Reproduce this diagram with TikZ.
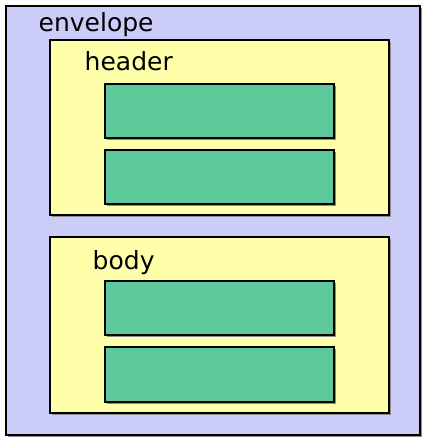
\documentclass[tikz,border=0pt]{standalone}
\usepackage{fontspec}
\setmainfont{DejaVu Sans}
\begin{document}
\begin{tikzpicture}[x=1pt,y=-1pt,
  box/.style={draw=black,line width=2pt},
  shade/.style={fill=black!45,draw=none},
  boxtitle/.style={anchor=base west,inner sep=0pt,font=\fontsize{25}{29}\selectfont}]
\definecolor{envfill}{RGB}{204,204,248}
\definecolor{partfill}{RGB}{255,255,170}
\definecolor{itemfill}{RGB}{93,200,154}
\useasboundingbox (0,0) rectangle (428,442);
\fill[white] (0,0) rectangle (428,442);

% envelope
\fill[shade] (8,8) rectangle (422,437);
\draw[box,fill=envfill] (6,6) rectangle (420,435);
\node[boxtitle] (envlabel) at (38.5,31) {envelope};

% header block
\fill[shade] (52,42) rectangle (391,217);
\draw[box,fill=partfill] (50,40) rectangle (389,215);
\node[boxtitle] (hdrlabel) at (84.5,70) {header};
\fill[shade] (107,86) rectangle (336,140);
\draw[box,fill=itemfill] (105,84) rectangle (334,138);
\fill[shade] (107,152) rectangle (336,206);
\draw[box,fill=itemfill] (105,150) rectangle (334,204);

% body block
\fill[shade] (52,239) rectangle (391,415);
\draw[box,fill=partfill] (50,237) rectangle (389,413);
\node[boxtitle] (bodylabel) at (92.5,269) {body};
\fill[shade] (107,283) rectangle (336,337);
\draw[box,fill=itemfill] (105,281) rectangle (334,335);
\fill[shade] (107,349) rectangle (336,404);
\draw[box,fill=itemfill] (105,347) rectangle (334,402);
\end{tikzpicture}
\end{document}
